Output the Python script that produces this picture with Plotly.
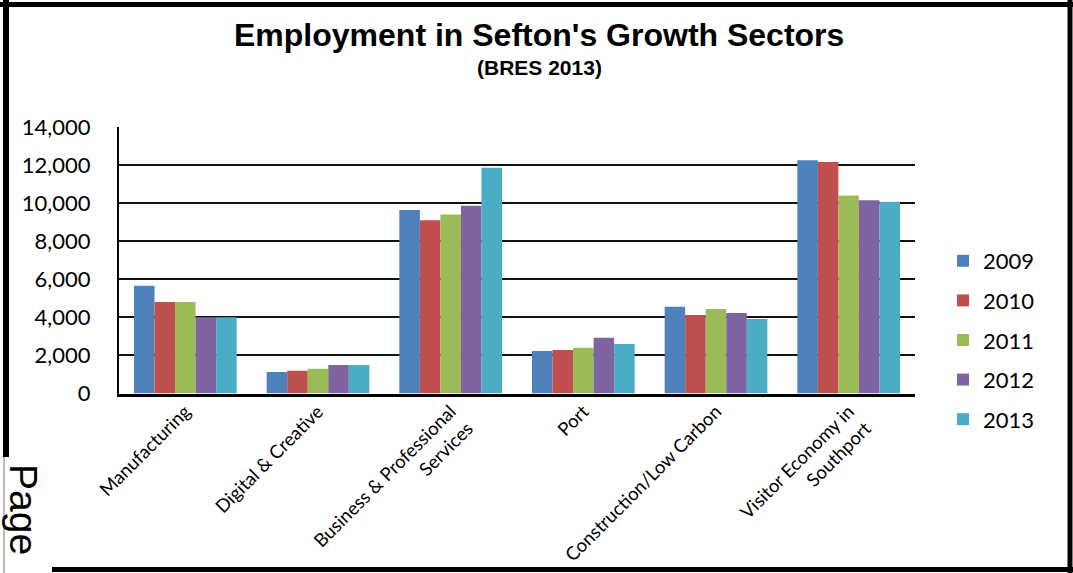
import plotly.graph_objects as go

# Employment by growth sector, BRES 2009-2013
sectors = [
    "Manufacturing",
    "Digital & Creative",
    "Business & Professional<br>Services",
    "Port",
    "Construction/Low Carbon",
    "Visitor Economy in<br>Southport",
]
years = ["2009", "2010", "2011", "2012", "2013"]
emp_2009 = [5650, 1130, 9630, 2230, 4550, 12250]
emp_2010 = [4800, 1200, 9100, 2280, 4120, 12150]
emp_2011 = [4800, 1300, 9400, 2400, 4440, 10400]
emp_2012 = [4000, 1500, 9850, 2920, 4230, 10150]
emp_2013 = [4000, 1500, 11850, 2600, 3910, 10050]
series = [emp_2009, emp_2010, emp_2011, emp_2012, emp_2013]
colors = ["#4F81BD", "#C0504D", "#9BBB59", "#8064A2", "#4BACC6"]
y_ticks = [0, 2000, 4000, 6000, 8000, 10000, 12000, 14000]

W, H = 1073, 573
label_font = "Lato, 'Open Sans', sans-serif"

fig = go.Figure()
for yr, vals, col in zip(years, series, colors):
    fig.add_trace(go.Bar(
        name=yr, x=sectors, y=vals, marker=dict(color=col, line=dict(width=0)),
        legendgroup=yr,
    ))

# outer frame drawn in pixel-derived paper coordinates
def px(x):
    return x / W

def py(y):
    return 1 - y / H

frame = [
    # left (stops above the page label)
    dict(x0=px(6), x1=px(6), y0=py(0), y1=py(457), width=6),
    # top
    dict(x0=px(0), x1=px(1073), y0=py(4.5), y1=py(4.5), width=5),
    # right
    dict(x0=px(1070), x1=px(1070), y0=py(0), y1=py(573), width=5),
    # bottom
    dict(x0=px(52), x1=px(1073), y0=py(569.5), y1=py(569.5), width=5),
]
shapes = []
for f in frame:
    shapes.append(dict(type="line", xref="paper", yref="paper",
                       x0=f["x0"], x1=f["x1"], y0=f["y0"], y1=f["y1"],
                       line=dict(color="black", width=f["width"])))
shapes.append(dict(type="line", xref="paper", yref="paper",
                   x0=px(4), x1=px(4), y0=py(457), y1=py(573),
                   line=dict(color="#777", width=1)))

annotations = [
    dict(text="<b>Employment in Sefton's Growth Sectors</b>",
         x=px(539), y=py(35), xref="paper", yref="paper",
         showarrow=False, xanchor="center", yanchor="middle",
         font=dict(family="Liberation Sans, Arial, sans-serif", size=32, color="black")),
    dict(text="<b>(BRES 2013)</b>",
         x=px(539), y=py(68), xref="paper", yref="paper",
         showarrow=False, xanchor="center", yanchor="middle",
         font=dict(family="Liberation Sans, Arial, sans-serif", size=21, color="black")),
    dict(text="Page", textangle=90,
         x=px(24), y=py(509), xref="paper", yref="paper",
         showarrow=False, xanchor="center", yanchor="middle",
         font=dict(family="Liberation Sans, Arial, sans-serif", size=39, color="black")),
]

fig.update_layout(
    width=W, height=H,
    margin=dict(l=0, r=0, t=0, b=0),
    paper_bgcolor="white", plot_bgcolor="white",
    barmode="group", bargap=0.226, bargroupgap=0,
    font=dict(family=label_font, color="black"),
    showlegend=True,
    legend=dict(
        x=px(943), y=py(340), xanchor="left", yanchor="middle",
        font=dict(family=label_font, size=22, color="black"),
        traceorder="grouped", tracegroupgap=8,
        bgcolor="rgba(0,0,0,0)",
    ),
    shapes=shapes,
    annotations=annotations,
    xaxis=dict(
        domain=[px(119), px(915)],
        tickangle=-45,
        tickfont=dict(family=label_font, size=18.5, color="black"),
        ticklabelstandoff=-3,
        showline=True, linecolor="black", linewidth=3,
        ticks="", showgrid=False, automargin=False,
    ),
    yaxis=dict(
        domain=[py(393.5), py(126.8)],
        range=[0, 14000],
        tickvals=y_ticks, tickformat=",",
        tickfont=dict(family=label_font, size=22, color="black"),
        ticklabelstandoff=22,
        showline=True, linecolor="black", linewidth=2,
        showgrid=True, gridcolor="#111", gridwidth=2,
        zeroline=False, ticks="", automargin=False,
    ),
)

fig.write_html("out.html")
